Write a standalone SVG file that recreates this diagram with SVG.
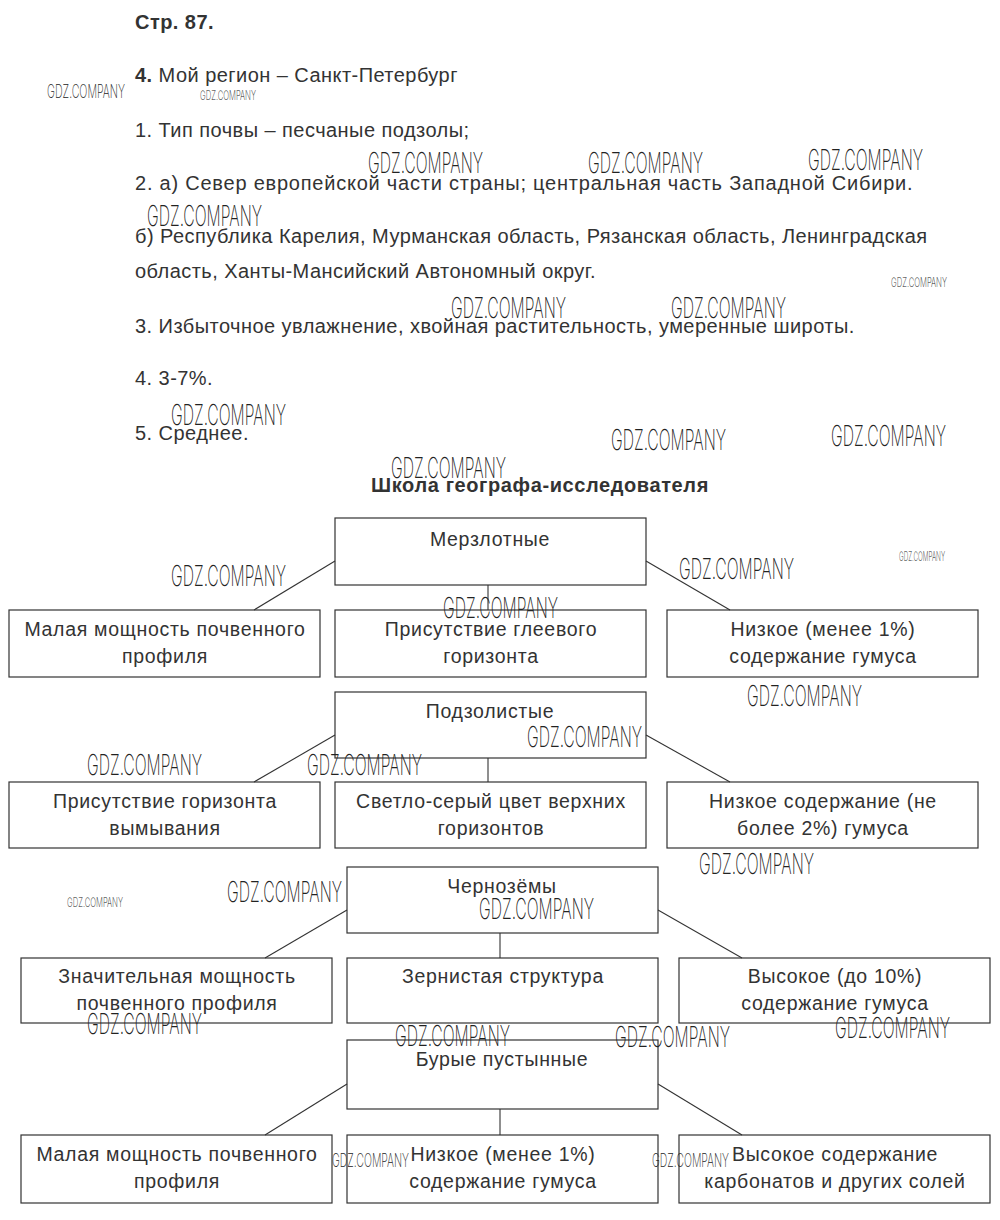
<svg xmlns="http://www.w3.org/2000/svg" width="1000" height="1220" viewBox="0 0 1000 1220">
<style>
.t{font-family:"Liberation Sans",Arial,sans-serif;font-size:20px;letter-spacing:0.45px;fill:#333}
.b{font-weight:bold}
.h{font-family:"Liberation Sans",Arial,sans-serif;font-size:20px;letter-spacing:0.6px;font-weight:bold;fill:#333;text-anchor:middle}
.c{font-family:"Liberation Sans",Arial,sans-serif;font-size:19.5px;letter-spacing:0.7px;fill:#333;text-anchor:middle}
.box{fill:none;stroke:#333;stroke-width:1.2}
.ln{stroke:#333;stroke-width:1.1;fill:none}
.w{font-family:Inter,"Liberation Sans Narrow","Liberation Sans",sans-serif;font-weight:200;fill:#222}
.wl{font-size:29px}
.wm{font-size:19px}
.ws{font-size:13px}
</style>
<rect width="1000" height="1220" fill="#fff"/>
<g id="text">
<text class="t b" x="135" y="29">Стр. 87.</text>
<text class="t" x="135" y="82"><tspan class="b">4.</tspan> Мой регион – Санкт-Петербург</text>
<text class="t" x="135" y="137">1. Тип почвы – песчаные подзолы;</text>
<text class="t" x="135" y="190" textLength="778">2. а) Север европейской части страны; центральная часть Западной Сибири.</text>
<text class="t" x="135" y="243">б) Республика Карелия, Мурманская область, Рязанская область, Ленинградская</text>
<text class="t" x="135" y="278">область, Ханты-Мансийский Автономный округ.</text>
<text class="t" x="135" y="333">3. Избыточное увлажнение, хвойная растительность, умеренные широты.</text>
<text class="t" x="135" y="385">4. 3-7%.</text>
<text class="t" x="135" y="440">5. Среднее.</text>
<text class="h" x="540" y="492">Школа географа-исследователя</text>
</g>
<g id="connectors">
<line class="ln" x1="335" y1="561" x2="254" y2="610"/>
<line class="ln" x1="488" y1="585" x2="488" y2="610"/>
<line class="ln" x1="646" y1="561" x2="730" y2="610"/>
<line class="ln" x1="335" y1="735" x2="254" y2="782"/>
<line class="ln" x1="488" y1="758" x2="488" y2="782"/>
<line class="ln" x1="646" y1="735" x2="730" y2="782"/>
<line class="ln" x1="347" y1="910" x2="265" y2="958"/>
<line class="ln" x1="500" y1="933" x2="500" y2="958"/>
<line class="ln" x1="658" y1="910" x2="742" y2="958"/>
<line class="ln" x1="347" y1="1084" x2="265" y2="1135"/>
<line class="ln" x1="500" y1="1109" x2="500" y2="1135"/>
<line class="ln" x1="658" y1="1084" x2="742" y2="1135"/>
</g>
<g id="n-merzlotnye"><rect class="box" x="335" y="518" width="311" height="67"/><text class="c" x="490" y="546">Мерзлотные</text></g>
<g id="n-m1"><rect class="box" x="9" y="610" width="311" height="67"/><text class="c" x="165" y="636">Малая мощность почвенного</text><text class="c" x="165" y="663">профиля</text></g>
<g id="n-m2"><rect class="box" x="335" y="610" width="311" height="67"/><text class="c" x="491" y="636">Присутствие глеевого</text><text class="c" x="491" y="663">горизонта</text></g>
<g id="n-m3"><rect class="box" x="667" y="610" width="311" height="67"/><text class="c" x="823" y="636">Низкое (менее 1%)</text><text class="c" x="823" y="663">содержание гумуса</text></g>
<g id="n-podzol"><rect class="box" x="335" y="692" width="311" height="66"/><text class="c" x="490" y="718">Подзолистые</text></g>
<g id="n-p1"><rect class="box" x="9" y="782" width="311" height="66"/><text class="c" x="165" y="808">Присутствие горизонта</text><text class="c" x="165" y="835">вымывания</text></g>
<g id="n-p2"><rect class="box" x="335" y="782" width="311" height="66"/><text class="c" x="491" y="808">Светло-серый цвет верхних</text><text class="c" x="491" y="835">горизонтов</text></g>
<g id="n-p3"><rect class="box" x="667" y="782" width="311" height="66"/><text class="c" x="823" y="808">Низкое содержание (не</text><text class="c" x="823" y="835">более 2%) гумуса</text></g>
<g id="n-chern"><rect class="box" x="347" y="867" width="311" height="66"/><text class="c" x="502" y="893">Чернозёмы</text></g>
<g id="n-c1"><rect class="box" x="21" y="958" width="311" height="65"/><text class="c" x="177" y="983">Значительная мощность</text><text class="c" x="177" y="1010">почвенного профиля</text></g>
<g id="n-c2"><rect class="box" x="347" y="958" width="311" height="65"/><text class="c" x="503" y="983">Зернистая структура</text></g>
<g id="n-c3"><rect class="box" x="679" y="958" width="311" height="65"/><text class="c" x="835" y="983">Высокое (до 10%)</text><text class="c" x="835" y="1010">содержание гумуса</text></g>
<g id="n-bury"><rect class="box" x="347" y="1040" width="311" height="69"/><text class="c" x="502" y="1066">Бурые пустынные</text></g>
<g id="n-b1"><rect class="box" x="21" y="1135" width="311" height="68"/><text class="c" x="177" y="1161">Малая мощность почвенного</text><text class="c" x="177" y="1188">профиля</text></g>
<g id="n-b2"><rect class="box" x="347" y="1135" width="311" height="68"/><text class="c" x="503" y="1161">Низкое (менее 1%)</text><text class="c" x="503" y="1188">содержание гумуса</text></g>
<g id="n-b3"><rect class="box" x="679" y="1135" width="311" height="68"/><text class="c" x="835" y="1161">Высокое содержание</text><text class="c" x="835" y="1188">карбонатов и других солей</text></g>
<g id="watermarks">
<text class="w wm" x="47" y="98" textLength="78" lengthAdjust="spacingAndGlyphs">GDZ.COMPANY</text>
<text class="w ws" x="200" y="100" textLength="56" lengthAdjust="spacingAndGlyphs">GDZ.COMPANY</text>
<text class="w wl" x="368" y="173" textLength="115" lengthAdjust="spacingAndGlyphs">GDZ.COMPANY</text>
<text class="w wl" x="588" y="173" textLength="115" lengthAdjust="spacingAndGlyphs">GDZ.COMPANY</text>
<text class="w wl" x="808" y="170" textLength="115" lengthAdjust="spacingAndGlyphs">GDZ.COMPANY</text>
<text class="w wl" x="147" y="226" textLength="115" lengthAdjust="spacingAndGlyphs">GDZ.COMPANY</text>
<text class="w ws" x="891" y="287" textLength="56" lengthAdjust="spacingAndGlyphs">GDZ.COMPANY</text>
<text class="w wl" x="451" y="318" textLength="115" lengthAdjust="spacingAndGlyphs">GDZ.COMPANY</text>
<text class="w wl" x="671" y="318" textLength="115" lengthAdjust="spacingAndGlyphs">GDZ.COMPANY</text>
<text class="w wl" x="171" y="425" textLength="115" lengthAdjust="spacingAndGlyphs">GDZ.COMPANY</text>
<text class="w wl" x="611" y="450" textLength="115" lengthAdjust="spacingAndGlyphs">GDZ.COMPANY</text>
<text class="w wl" x="831" y="446" textLength="115" lengthAdjust="spacingAndGlyphs">GDZ.COMPANY</text>
<text class="w wl" x="391" y="478" textLength="115" lengthAdjust="spacingAndGlyphs">GDZ.COMPANY</text>
<text class="w wl" x="171" y="586" textLength="115" lengthAdjust="spacingAndGlyphs">GDZ.COMPANY</text>
<text class="w wl" x="679" y="579" textLength="115" lengthAdjust="spacingAndGlyphs">GDZ.COMPANY</text>
<text class="w ws" x="899" y="561" textLength="46" lengthAdjust="spacingAndGlyphs">GDZ.COMPANY</text>
<text class="w wl" x="443" y="618" textLength="115" lengthAdjust="spacingAndGlyphs">GDZ.COMPANY</text>
<text class="w wl" x="747" y="706" textLength="115" lengthAdjust="spacingAndGlyphs">GDZ.COMPANY</text>
<text class="w wl" x="527" y="747" textLength="115" lengthAdjust="spacingAndGlyphs">GDZ.COMPANY</text>
<text class="w wl" x="87" y="775" textLength="115" lengthAdjust="spacingAndGlyphs">GDZ.COMPANY</text>
<text class="w wl" x="307" y="775" textLength="115" lengthAdjust="spacingAndGlyphs">GDZ.COMPANY</text>
<text class="w wl" x="699" y="874" textLength="115" lengthAdjust="spacingAndGlyphs">GDZ.COMPANY</text>
<text class="w wl" x="227" y="902" textLength="115" lengthAdjust="spacingAndGlyphs">GDZ.COMPANY</text>
<text class="w ws" x="67" y="907" textLength="56" lengthAdjust="spacingAndGlyphs">GDZ.COMPANY</text>
<text class="w wl" x="479" y="919" textLength="115" lengthAdjust="spacingAndGlyphs">GDZ.COMPANY</text>
<text class="w wl" x="87" y="1034" textLength="115" lengthAdjust="spacingAndGlyphs">GDZ.COMPANY</text>
<text class="w wl" x="395" y="1046" textLength="115" lengthAdjust="spacingAndGlyphs">GDZ.COMPANY</text>
<text class="w wl" x="615" y="1047" textLength="115" lengthAdjust="spacingAndGlyphs">GDZ.COMPANY</text>
<text class="w wl" x="835" y="1038" textLength="115" lengthAdjust="spacingAndGlyphs">GDZ.COMPANY</text>
<text class="w wm" x="332" y="1167" textLength="77" lengthAdjust="spacingAndGlyphs">GDZ.COMPANY</text>
<text class="w wm" x="652" y="1167" textLength="77" lengthAdjust="spacingAndGlyphs">GDZ.COMPANY</text>
</g>
</svg>
